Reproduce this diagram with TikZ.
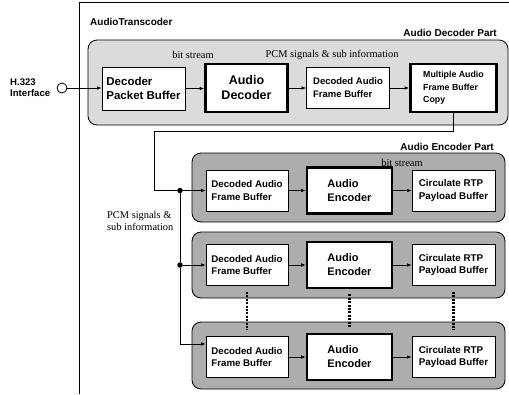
\documentclass[tikz,border=0pt]{standalone}
\usepackage{fontspec}
\setmainfont{Liberation Serif}
\newfontfamily\hv{Liberation Sans}
\usetikzlibrary{arrows.meta}
\begin{document}
\begin{tikzpicture}[x=1pt,y=-1pt,
  box/.style={draw,fill=white,line width=0.9pt,minimum width=83pt,minimum height=41pt,
    inner sep=1pt,align=left,font=\hv\bfseries\fontsize{9.7}{12.5}\selectfont},
  thickbox/.style={box,line width=2.6pt,minimum width=82pt,minimum height=45pt},
  part/.style={draw,rounded corners=9pt,line width=0.8pt,inner sep=0pt},
  decpart/.style={part,fill=black!14},
  encpart/.style={part,fill=black!32,minimum width=313pt},
  conn/.style={line width=0.6pt},
  arr/.style={conn,-{Latex[length=4.5pt,width=3.5pt]}},
  lbl/.style={font=\fontsize{10.4}{12}\selectfont,inner sep=0pt},
  ttl/.style={font=\hv\bfseries\fontsize{10}{12}\selectfont,inner sep=0pt},
  dotv/.style={line width=2.6pt,dash pattern=on 2pt off 1.4pt},
  jdot/.style={circle,fill=black,inner sep=0pt,minimum size=5.5pt}]
\useasboundingbox (0,0) rectangle (509,394);
% outer frame
\draw[line width=0.8pt] (509,2) -- (79,2) -- (79,394);
\node[ttl,anchor=west] (title) at (90,22) {AudioTranscoder};
% decoder part
\node[decpart,minimum width=420pt,minimum height=85pt] (dec) at (298,82.5) {};
\node[ttl,anchor=east] (decl) at (497,33) {Audio Decoder Part};
\node[lbl] (bs1) at (193,55) {bit stream};
\node[lbl] (pcm1) at (332,55) {PCM signals \& sub information};
\node[box,font=\hv\bfseries\fontsize{11.5}{14.5}\selectfont,minimum height=43pt] (dpb) at (143.5,88.5) {Decoder\\Packet Buffer};
\node[thickbox,align=center,minimum height=48pt,font=\hv\bfseries\fontsize{12.5}{15}\selectfont] (ad) at (246.5,88) {Audio\\Decoder};
\node[box,minimum height=41pt,font=\hv\bfseries\fontsize{9.5}{13}\selectfont] (dafb) at (348,88) {Decoded Audio\\Frame Buffer};
\node[thickbox,minimum width=86pt,minimum height=48pt,font=\hv\bfseries\fontsize{8.8}{12.5}\selectfont] (mafbc) at (453.5,88) {Multiple Audio\\Frame Buffer\\Copy};
% H.323
\node[ttl,align=left,anchor=west,font=\hv\bfseries\fontsize{9.6}{11}\selectfont] (h323t) at (10,87.5) {H.323\\Interface};
\node[circle,draw,line width=0.8pt,minimum size=10pt,inner sep=0pt] (h323) at (62,88) {};
\draw[arr] (h323) -- (h323 -| dpb.west);
\draw[arr] (dpb.east) -- (dpb.east -| ad.west);
\draw[arr] (ad.east) -- (ad.east -| dafb.west);
\draw[arr] (dafb.east) -- (dafb.east -| mafbc.west);
% encoder parts
\node[encpart,minimum height=69pt] (enc1) at (348.5,187.5) {};
\node[encpart,minimum height=66pt] (enc2) at (348.5,265) {};
\node[encpart,minimum height=67pt] (enc3) at (348.5,355.5) {};
\node[ttl,anchor=east] (encl) at (494,147) {Audio Encoder Part};
\node[lbl] (bs2) at (402,163) {bit stream};
% rows
\foreach \i/\y in {1/190.5,2/265,3/357}{
  \node[box,minimum width=82pt] (edafb\i) at (247,\y) {Decoded Audio\\Frame Buffer};
  \node[thickbox,minimum width=85pt,minimum height=46pt,font=\hv\bfseries\fontsize{11}{14}\selectfont] (ae\i) at (349.5,\y) {Audio\\Encoder};
  \node[box,font=\hv\bfseries\fontsize{9.8}{12.5}\selectfont] (crpb\i) at (453.5,\y) {Circulate RTP\\Payload Buffer};
  \draw[arr] (edafb\i.east) -- (edafb\i.east -| ae\i.west);
  \draw[arr] (ae\i.east) -- (ae\i.east -| crpb\i.west);
}
% dotted continuation
\draw[dotv] ([yshift=-6pt]edafb2.south) -- ([yshift=6pt]edafb3.north);
\draw[dotv] ([yshift=-5pt]ae2.south) -- ([yshift=5pt]ae3.north);
\draw[dotv] ([yshift=-6pt]crpb2.south) -- ([yshift=6pt]crpb3.north);
% bus from decoder to encoders
\coordinate (bend1) at (154,131);
\coordinate (busx) at (180,0);
\draw[arr] (mafbc.south) -- (mafbc.south |- bend1) -- (bend1) -- (bend1 |- edafb1.west) -- (edafb1.west);
\node[jdot] (j1) at (busx |- edafb1.west) {};
\node[jdot] (j2) at (busx |- edafb2.west) {};
\coordinate (e3) at ([yshift=13pt]edafb3.west);
\draw[conn] (j1) -- (j2);
\draw[arr] (j2) -- (edafb2.west);
\draw[arr] (j2) -- (j2 |- e3) -- (e3);
\node[lbl,align=left,anchor=west] (pcm2) at (107,221) {PCM signals \&\\sub information};
\end{tikzpicture}
\end{document}
